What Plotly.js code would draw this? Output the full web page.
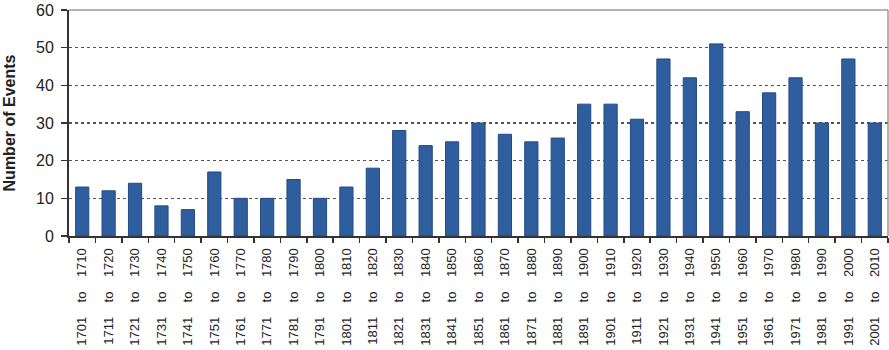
<!DOCTYPE html>
<html>
<head>
<meta charset="utf-8">
<script src="https://cdn.plot.ly/plotly-3.0.1.min.js"></script>
<style>html,body{margin:0;padding:0;background:#fff;}#chart{width:889px;height:350px;}</style>
</head>
<body>
<div id="chart"></div>
<script>
const categories = ["1701 to 1710","1711 to 1720","1721 to 1730","1731 to 1740","1741 to 1750","1751 to 1760","1761 to 1770","1771 to 1780","1781 to 1790","1791 to 1800","1801 to 1810","1811 to 1820","1821 to 1830","1831 to 1840","1841 to 1850","1851 to 1860","1861 to 1870","1871 to 1880","1881 to 1890","1891 to 1900","1901 to 1910","1911 to 1920","1921 to 1930","1931 to 1940","1941 to 1950","1951 to 1960","1961 to 1970","1971 to 1980","1981 to 1990","1991 to 2000","2001 to 2010"];
const events = [13,12,14,8,7,17,10,10,15,10,13,18,28,24,25,30,27,25,26,35,35,31,47,42,51,33,38,42,30,47,30];
const yTicks = [0,10,20,30,40,50,60];

// wide word spacing as in the reference labels
const tickText = categories.map(c => c.split(' ').join('\u00a0\u00a0\u00a0\u00a0'));

const trace = {
  type: 'bar', x: categories, y: events,
  marker: {color: '#2f5e9f', line: {color: '#234a82', width: 1}}
};
const layout = {
  width: 889, height: 350,
  margin: {l: 69, r: 1, t: 10, b: 114},
  paper_bgcolor: '#fff', plot_bgcolor: '#fff',
  bargap: 0.5,
  showlegend: false,
  font: {family: 'Liberation Sans, Arial, sans-serif', color: '#222'},
  xaxis: {
    type: 'category', tickangle: -90,
    tickvals: categories, ticktext: tickText,
    tickfont: {size: 13, color: '#222'},
    showline: true, linecolor: '#333', linewidth: 2,
    ticks: 'outside', ticklen: 5, tickcolor: '#333', tickwidth: 1.5,
    tickson: 'boundaries', showgrid: false, zeroline: false,
    ticklabelstandoff: 5
  },
  yaxis: {
    range: [0, 60], tickvals: yTicks,
    tickfont: {size: 16, color: '#222'},
    ticklabeloverflow: 'allow',
    title: {text: 'Number of Events', font: {size: 16, color: '#222', weight: 'bold'}, standoff: 16},
    showline: true, linecolor: '#333', linewidth: 2,
    ticks: 'outside', ticklen: 6, tickcolor: '#333', tickwidth: 1.5,
    ticklabelstandoff: 4,
    showgrid: true, gridcolor: '#555', griddash: 'dot', gridwidth: 1.5,
    zeroline: false
  },
  shapes: [
    {type: 'line', xref: 'paper', yref: 'paper', x0: 0, x1: 1, y0: 1, y1: 1, line: {color: '#999', width: 1.5}},
    {type: 'line', xref: 'paper', yref: 'paper', x0: 1, x1: 1, y0: 0, y1: 1, line: {color: '#999', width: 1.5}}
  ]
};
Plotly.newPlot('chart', [trace], layout, {displayModeBar: false, staticPlot: true});
</script>
</body>
</html>
